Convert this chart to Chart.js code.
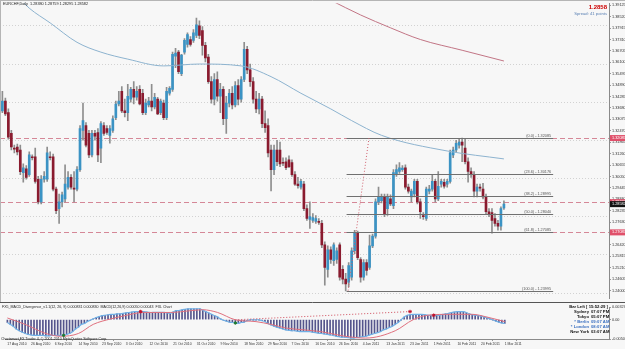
<!DOCTYPE html>
<html>
<head>
<meta charset="utf-8">
<title>EURCHF Daily</title>
<script src="https://cdn.jsdelivr.net/npm/chart.js@4.4.1/dist/chart.umd.min.js"></script>
<style>
  html, body { margin: 0; padding: 0; background: #f7f7f7; }
  #wrap { position: relative; width: 625px; height: 349px; overflow: hidden; }
  canvas { position: absolute; left: 0; }
  #priceChart { top: 0; }
  #macdChart { top: 302px; }
</style>
</head>
<body>
<div id="wrap">
  <canvas id="priceChart" width="625" height="302"></canvas>
  <canvas id="macdChart" width="625" height="47"></canvas>
</div>
<script>
// ===== EURCHF daily candles, 17 Aug 2010 .. 1 Mar 2011 =====
const opens = [
  1.3353,1.3404,1.3343,1.3233,1.3155,1.3161,1.3145,1.3025,1.3046,1.3015,
  1.3109,1.3109,1.2990,1.2870,1.2990,1.2990,1.3109,1.3109,1.2938,1.2834,
  1.2870,1.2886,1.2948,1.3000,1.2943,1.2938,1.3041,1.3249,1.3275,1.3233,
  1.3119,1.3233,1.3238,1.3155,1.3275,1.3259,1.3223,1.3249,1.3316,1.3389,
  1.3456,1.3353,1.3343,1.3415,1.3467,1.3425,1.3467,1.3446,1.3343,1.3384,
  1.3404,1.3373,1.3415,1.3343,1.3394,1.3316,1.3446,1.3467,1.3643,1.3664,
  1.3550,1.3664,1.3705,1.3731,1.3726,1.3752,1.3804,1.3778,1.3700,1.3638,
  1.3508,1.3415,1.3519,1.3430,1.3467,1.3311,1.3394,1.3446,1.3384,1.3487,
  1.3415,1.3519,1.3679,1.3570,1.3508,1.3415,1.3363,1.3415,1.3285,1.3275,
  1.3145,1.3041,1.3145,1.3145,1.3078,1.3083,1.3093,1.3078,1.3015,1.2964,
  1.2948,1.2964,1.2834,1.2777,1.2772,1.2767,1.2767,1.2756,1.2642,1.2512,
  1.2616,1.2559,1.2565,1.2642,1.2512,1.2461,1.2445,1.2471,1.2611,1.2704,
  1.2564,1.2471,1.2549,1.2523,1.2637,1.2689,1.2870,1.2876,1.2896,1.2834,
  1.2886,1.2850,1.3015,1.3031,1.3041,1.3051,1.2948,1.2896,1.2912,1.2979,
  1.2870,1.2798,1.2782,1.2927,1.2938,1.2979,1.2886,1.2964,1.2974,1.2964,
  1.2979,1.3119,1.3145,1.3171,1.3187,1.3155,1.3083,1.3031,1.3015,1.2927,
  1.2948,1.2938,1.2896,1.2818,1.2813,1.2782,1.2756,1.2741,1.2838
];
const highs = [
  1.3456,1.3420,1.3363,1.3249,1.3171,1.3176,1.3171,1.3072,1.3062,1.3135,
  1.3119,1.3155,1.3005,1.3010,1.3031,1.3161,1.3135,1.3124,1.2948,1.2912,
  1.2922,1.3067,1.3031,1.3015,1.3031,1.3057,1.3275,1.3394,1.3290,1.3249,
  1.3249,1.3249,1.3259,1.3296,1.3290,1.3275,1.3275,1.3327,1.3404,1.3456,
  1.3482,1.3415,1.3493,1.3477,1.3508,1.3482,1.3487,1.3467,1.3415,1.3425,
  1.3493,1.3446,1.3425,1.3415,1.3410,1.3477,1.3482,1.3664,1.3684,1.3674,
  1.3653,1.3736,1.3767,1.3747,1.3783,1.3845,1.3830,1.3799,1.3716,1.3653,
  1.3534,1.3550,1.3560,1.3498,1.3482,1.3430,1.3467,1.3482,1.3508,1.3519,
  1.3534,1.3716,1.3695,1.3601,1.3529,1.3456,1.3446,1.3430,1.3353,1.3311,
  1.3171,1.3171,1.3197,1.3187,1.3104,1.3104,1.3114,1.3093,1.3031,1.3000,
  1.2990,1.2979,1.2855,1.2870,1.2808,1.2798,1.2782,1.2772,1.2658,1.2637,
  1.2632,1.2653,1.2627,1.2653,1.2533,1.2492,1.2549,1.2627,1.2720,1.2715,
  1.2575,1.2564,1.2564,1.2694,1.2699,1.2886,1.2948,1.2912,1.2912,1.2912,
  1.2907,1.3041,1.3067,1.3078,1.3062,1.3067,1.2964,1.2938,1.2990,1.2990,
  1.2886,1.2813,1.2948,1.2958,1.3015,1.2990,1.3031,1.2990,1.2990,1.2990,
  1.3145,1.3161,1.3197,1.3205,1.3208,1.3204,1.3104,1.3051,1.3031,1.2964,
  1.2964,1.2969,1.2912,1.2834,1.2834,1.2808,1.2772,1.2844,1.2876
];
const lows = [
  1.3343,1.3327,1.3202,1.3145,1.3130,1.3119,1.3015,1.2974,1.2990,1.3005,
  1.3093,1.2969,1.2860,1.2860,1.2974,1.2979,1.3093,1.2928,1.2808,1.2756,
  1.2844,1.2870,1.2938,1.2938,1.2870,1.2928,1.3031,1.3197,1.3161,1.3104,
  1.3109,1.3197,1.3083,1.3078,1.3223,1.3228,1.3181,1.3238,1.3306,1.3379,
  1.3343,1.3321,1.3301,1.3399,1.3389,1.3410,1.3384,1.3332,1.3332,1.3373,
  1.3353,1.3363,1.3332,1.3332,1.3306,1.3306,1.3436,1.3456,1.3581,1.3550,
  1.3539,1.3653,1.3690,1.3695,1.3716,1.3741,1.3736,1.3648,1.3612,1.3498,
  1.3394,1.3384,1.3404,1.3343,1.3280,1.3233,1.3373,1.3363,1.3373,1.3384,
  1.3399,1.3508,1.3550,1.3482,1.3394,1.3343,1.3337,1.3264,1.3238,1.3109,
  1.2928,1.3015,1.3062,1.3057,1.3062,1.3041,1.3051,1.3005,1.2958,1.2943,
  1.2938,1.2824,1.2772,1.2730,1.2761,1.2756,1.2751,1.2627,1.2429,1.2471,
  1.2544,1.2533,1.2544,1.2455,1.2435,1.2398,1.2419,1.2455,1.2595,1.2564,
  1.2445,1.2455,1.2481,1.2512,1.2627,1.2678,1.2855,1.2865,1.2792,1.2798,
  1.2850,1.2834,1.3005,1.3021,1.3031,1.2938,1.2917,1.2870,1.2896,1.2860,
  1.2782,1.2777,1.2772,1.2912,1.2927,1.2870,1.2876,1.2948,1.2943,1.2948,
  1.2969,1.3104,1.3135,1.3155,1.3083,1.3072,1.2974,1.3000,1.2896,1.2896,
  1.2927,1.2886,1.2808,1.2792,1.2704,1.2741,1.2720,1.2720,1.2830
];
const closes = [
  1.3404,1.3337,1.3213,1.3161,1.3150,1.3135,1.3030,1.3051,1.3000,1.3119,
  1.3104,1.2979,1.2870,1.2990,1.3005,1.3130,1.3104,1.2938,1.2824,1.2870,
  1.2907,1.2964,1.3000,1.2948,1.2938,1.3041,1.3259,1.3301,1.3171,1.3119,
  1.3233,1.3218,1.3119,1.3285,1.3233,1.3238,1.3259,1.3311,1.3389,1.3404,
  1.3353,1.3343,1.3430,1.3467,1.3425,1.3456,1.3389,1.3343,1.3394,1.3404,
  1.3373,1.3425,1.3337,1.3404,1.3316,1.3456,1.3472,1.3653,1.3659,1.3560,
  1.3648,1.3726,1.3757,1.3705,1.3767,1.3809,1.3752,1.3700,1.3633,1.3508,
  1.3415,1.3519,1.3430,1.3467,1.3311,1.3394,1.3446,1.3384,1.3487,1.3415,
  1.3519,1.3679,1.3570,1.3508,1.3415,1.3363,1.3415,1.3285,1.3264,1.3130,
  1.3041,1.3145,1.3083,1.3072,1.3075,1.3051,1.3057,1.3015,1.2964,1.2956,
  1.2979,1.2834,1.2782,1.2792,1.2787,1.2782,1.2761,1.2642,1.2523,1.2616,
  1.2565,1.2642,1.2611,1.2471,1.2461,1.2435,1.2533,1.2611,1.2704,1.2575,
  1.2471,1.2549,1.2507,1.2637,1.2689,1.2870,1.2896,1.2896,1.2808,1.2896,
  1.2860,1.3026,1.3041,1.3051,1.3049,1.2948,1.2927,1.2927,1.2979,1.2870,
  1.2818,1.2792,1.2938,1.2938,1.2979,1.2886,1.2953,1.2979,1.2953,1.2979,
  1.3130,1.3145,1.3181,1.3187,1.3171,1.3083,1.3031,1.3015,1.2927,1.2948,
  1.2943,1.2896,1.2818,1.2803,1.2772,1.2756,1.2741,1.2834,1.2858
];

// moving averages (bar index, value)
const maBlueBars   = [6, 9, 16, 25, 33, 42, 54, 66, 80, 90, 100, 110, 117, 127, 149, 168];
const maBlueValues = [1.3944, 1.3897, 1.3819, 1.3716, 1.3664, 1.3627, 1.3591, 1.3601, 1.3591, 1.3534, 1.3446, 1.3363, 1.3301, 1.3223, 1.3140, 1.3098];
const maRedBars    = [110, 120, 130, 140, 154, 168];
const maRedValues  = [1.3939, 1.3861, 1.3793, 1.3731, 1.3674, 1.3617];

// MACD panel
const macdMain = [
  -0.00076,-0.00124,-0.00171,-0.00243,-0.00290,-0.00326,-0.00361,-0.00385,-0.00397,-0.00409,
  -0.00409,-0.00409,-0.00409,-0.00421,-0.00421,-0.00409,-0.00409,-0.00409,-0.00409,-0.00409,
  -0.00385,-0.00361,-0.00314,-0.00243,-0.00195,-0.00124,-0.00100,-0.00053,-0.00017,0.00019,
  0.00054,0.00078,0.00101,0.00113,0.00125,0.00137,0.00137,0.00149,0.00149,0.00161,
  0.00173,0.00185,0.00196,0.00208,0.00208,0.00208,0.00208,0.00196,0.00185,0.00185,
  0.00185,0.00185,0.00185,0.00185,0.00173,0.00161,0.00196,0.00232,0.00232,0.00256,
  0.00268,0.00280,0.00280,0.00280,0.00280,0.00280,0.00244,0.00208,0.00173,0.00137,
  0.00101,0.00066,0.00019,-0.00017,-0.00041,-0.00065,-0.00076,-0.00088,-0.00100,-0.00076,
  -0.00065,-0.00029,-0.00005,-0.00005,-0.00005,-0.00005,-0.00029,-0.00053,-0.00100,-0.00136,
  -0.00171,-0.00195,-0.00219,-0.00243,-0.00266,-0.00278,-0.00290,-0.00290,-0.00302,-0.00314,
  -0.00314,-0.00314,-0.00314,-0.00326,-0.00338,-0.00350,-0.00361,-0.00373,-0.00385,-0.00397,
  -0.00409,-0.00433,-0.00445,-0.00456,-0.00456,-0.00468,-0.00480,-0.00480,-0.00468,-0.00456,
  -0.00445,-0.00433,-0.00409,-0.00385,-0.00361,-0.00338,-0.00314,-0.00266,-0.00243,-0.00207,
  -0.00171,-0.00124,-0.00076,-0.00005,0.00066,0.00113,0.00125,0.00137,0.00137,0.00137,
  0.00137,0.00125,0.00113,0.00113,0.00113,0.00113,0.00113,0.00137,0.00149,0.00161,
  0.00185,0.00196,0.00208,0.00208,0.00208,0.00185,0.00149,0.00125,0.00113,0.00101,
  0.00090,0.00066,0.00042,0.00019,-0.00005,-0.00041,-0.00065,-0.00088,-0.00100
];
const signalBars   = [0, 6, 13, 18, 24, 29, 35, 39, 46, 55, 62, 66, 71, 77, 84, 89, 94, 100, 106, 114, 121, 131, 137, 142, 150, 157, 162, 168];
const signalValues = [0.00042, -0.00124, -0.00361, -0.00433, -0.00361, -0.00124, 0.00019, 0.00090, 0.00185, 0.00185,
                      0.00232, 0.00256, 0.00185, -0.00005, -0.00053, -0.00124, -0.00219, -0.00266, -0.00314, -0.00433,
                      -0.00480, -0.00290, -0.00005, 0.00113, 0.00137, 0.00137, 0.00066, -0.00053];
// divergence marks of the FX5 indicator
const divLineBars   = [77, 136];
const divLineValues = [-0.00005, 0.00208];
const bearMarkBars   = [45, 136, 144];
const bearMarkValues = [0.00208, 0.00208, 0.00113];
const bullMarkBars   = [19, 77];
const bullMarkValues = [-0.00409, -0.00088];
const macdTicks = [-0.00504, 0, 0.00327];

// axes
const dateLabels = ['17 Aug 2010','26 Aug 2010','6 Sep 2010','14 Sep 2010','23 Sep 2010','3 Oct 2010','12 Oct 2010',
  '21 Oct 2010','31 Oct 2010','9 Nov 2010','18 Nov 2010','29 Nov 2010','7 Dec 2010','16 Dec 2010','26 Dec 2010',
  '4 Jan 2011','13 Jan 2011','23 Jan 2011','1 Feb 2011','10 Feb 2011','20 Feb 2011','1 Mar 2011'];
const labelStep = 8;
const priceTicks = [1.39125,1.38520,1.37915,1.37310,1.36705,1.36100,1.35495,1.34890,1.34285,1.33680,
  1.33075,1.32470,1.31865,1.31260,1.30655,1.30050,1.29445,1.28840,1.28235,1.27630,
  1.27025,1.26420,1.25815,1.25210,1.24605,1.24000];
const gridLevels = [1.38053, 1.36030, 1.34008, 1.31985, 1.29963, 1.27940, 1.25918, 1.23895];

// drawn objects
const dashedLevels = [1.32085, 1.28687, 1.27085];
const fibHigh = 1.32085, fibLow = 1.23995;
const fibLevels = [0, 23.6, 38.2, 50, 61.8, 100];
const fibStartBar = 115.3, fibEndBar = 184.5;
const fibDiagBars = [115.8, 122.8];
const lastPrice = 1.28582;

const FONT = 'Liberation Sans';
const xMin = -0.8, xMax = 203.2;
const UP = '#3b93c4', DOWN = '#8a1b2f', WICK = '#8e8e8e';

const candleColor = c => closes[c.dataIndex] >= opens[c.dataIndex] ? UP : DOWN;

function hline(ctx, x1, x2, y) {
  ctx.beginPath(); ctx.moveTo(x1, y); ctx.lineTo(x2, y); ctx.stroke();
}

const priceOverlay = {
  id: 'priceOverlay',
  beforeDraw(chart) {
    const { ctx, width, height } = chart;
    ctx.save();
    ctx.fillStyle = '#f7f7f7';
    ctx.fillRect(0, 0, width, height);
    ctx.restore();
  },
  beforeDatasetsDraw(chart) {
    const { ctx, chartArea: a, scales: { y } } = chart;
    ctx.save();
    ctx.lineWidth = 1;
    ctx.strokeStyle = '#d2d2d2';
    ctx.setLineDash([1, 2]);
    gridLevels.forEach(v => hline(ctx, a.left, a.right, Math.round(y.getPixelForValue(v)) + 0.5));
    ctx.strokeStyle = '#d58797';
    ctx.setLineDash([5, 3]);
    dashedLevels.forEach(v => hline(ctx, a.left, a.right, Math.round(y.getPixelForValue(v)) + 0.5));
    ctx.restore();
  },
  afterDatasetsDraw(chart) {
    const { ctx, scales: { x, y } } = chart;
    ctx.save();
    const x1 = x.getPixelForValue(fibStartBar), x2 = x.getPixelForValue(fibEndBar);
    ctx.lineWidth = 1;
    ctx.font = `3.8px ${FONT}`;
    ctx.textAlign = 'right';
    ctx.textBaseline = 'bottom';
    fibLevels.forEach(lvl => {
      const p = fibHigh - (fibHigh - fibLow) * lvl / 100;
      const py = Math.round(y.getPixelForValue(p)) + 0.5;
      ctx.strokeStyle = '#707070';
      hline(ctx, x1, x2, py);
      ctx.fillStyle = '#555';
      ctx.fillText(`(${lvl.toFixed(1)}) - ${p.toFixed(5)}`, x2 - 2, py - 1);
    });
    // fibo anchor line
    ctx.strokeStyle = '#d0606e';
    ctx.setLineDash([1, 2]);
    ctx.beginPath();
    ctx.moveTo(x.getPixelForValue(fibDiagBars[0]), y.getPixelForValue(fibLow));
    ctx.lineTo(x.getPixelForValue(fibDiagBars[1]), y.getPixelForValue(fibHigh));
    ctx.stroke();
    ctx.restore();
  },
  afterDraw(chart) {
    const { ctx, chartArea: a, scales: { y } } = chart;
    ctx.save();
    ctx.strokeStyle = '#b5b5b5';
    ctx.lineWidth = 1;
    hline(ctx, 0, chart.width, 0.5);
    ctx.beginPath(); ctx.moveTo(0.5, 0); ctx.lineTo(0.5, chart.height); ctx.stroke();

    ctx.textBaseline = 'middle';
    ctx.fillStyle = '#222';
    ctx.font = `3.8px ${FONT}`;
    ctx.textAlign = 'left';
    ctx.fillText('EURCHF,Daily  1.28380 1.28759 1.28295 1.28582', 3, 4);

    ctx.textAlign = 'right';
    ctx.fillStyle = '#cc0000';
    ctx.font = `bold 6px ${FONT}`;
    ctx.fillText(lastPrice.toFixed(4), a.right - 2, 7.5);
    ctx.fillStyle = '#5a80b4';
    ctx.font = `4.2px ${FONT}`;
    ctx.fillText('Spread: 41 points', a.right - 2, 14);

    // price tags on the axis
    ctx.textAlign = 'left';
    ctx.font = `3.8px ${FONT}`;
    const tag = (v, bg) => {
      const py = y.getPixelForValue(v);
      ctx.fillStyle = bg;
      ctx.fillRect(a.right + 1, py - 3, 16, 6);
      ctx.fillStyle = '#fff';
      ctx.fillText(v.toFixed(5), a.right + 3, py);
    };
    dashedLevels.forEach(v => tag(v, '#e0506a'));
    tag(lastPrice, '#111');
    ctx.restore();
  }
};

new Chart(document.getElementById('priceChart'), {
  type: 'bar',
  data: {
    datasets: [
      {
        type: 'bar',
        data: opens.map((o, i) => ({ x: i, y: [o, closes[i]] })),
        backgroundColor: candleColor,
        barThickness: 2,
        maxBarThickness: 2,
        minBarLength: 1,
        grouped: false,
        borderWidth: 0,
        order: 2
      },
      {
        type: 'bar',
        data: lows.map((l, i) => ({ x: i, y: [l, highs[i]] })),
        backgroundColor: WICK,
        barThickness: 1,
        maxBarThickness: 1,
        grouped: false,
        borderWidth: 0,
        order: 3
      },
      {
        type: 'line',
        data: maBlueBars.map((b, k) => ({ x: b, y: maBlueValues[k] })),
        borderColor: '#8db3cf',
        borderWidth: 1,
        pointRadius: 0,
        cubicInterpolationMode: 'monotone',
        order: 1
      },
      {
        type: 'line',
        data: maRedBars.map((b, k) => ({ x: b, y: maRedValues[k] })),
        borderColor: '#c27585',
        borderWidth: 1,
        pointRadius: 0,
        cubicInterpolationMode: 'monotone',
        order: 1
      }
    ]
  },
  options: {
    responsive: false,
    animation: false,
    devicePixelRatio: 1,
    layout: { padding: 0 },
    plugins: { legend: { display: false }, tooltip: { enabled: false } },
    scales: {
      x: { type: 'linear', min: xMin, max: xMax, offset: false, display: false },
      y: {
        position: 'right',
        min: 1.23568,
        max: 1.3923,
        afterFit: s => { s.width = 16; },
        afterBuildTicks: s => { s.ticks = priceTicks.map(v => ({ value: v })); },
        ticks: { font: { size: 3.8, family: FONT }, color: '#333', padding: 1, callback: v => v.toFixed(5) },
        grid: { drawOnChartArea: false, tickLength: 2, color: '#999' },
        border: { color: '#8a8a8a' }
      }
    }
  },
  plugins: [priceOverlay]
});

const macdOverlay = {
  id: 'macdOverlay',
  beforeDraw(chart) {
    const { ctx, width, height } = chart;
    ctx.save();
    ctx.fillStyle = '#f7f7f7';
    ctx.fillRect(0, 0, width, height);
    ctx.strokeStyle = '#555';
    ctx.lineWidth = 1;
    hline(ctx, 0, width, 0.5);
    ctx.restore();
  },
  afterDraw(chart) {
    const { ctx, chartArea: a } = chart;
    ctx.save();
    ctx.textBaseline = 'middle';
    ctx.textAlign = 'left';
    ctx.fillStyle = '#222';
    ctx.font = `3.6px ${FONT}`;
    ctx.fillText('FX5_MACD_Divergence_v1.1(12, 26, 9) 0.000831 0.000830  MACD(12,26,9) 0.00050 0.00043  FXL Chart', 2, 5);
    ctx.fillText('Chartsmart FX Trader 4, \u00a9 2001-2010 MetaQuotes Software Corp.', 1, a.bottom - 0.5);

    const rows = [
      ['Sydney', '07:07 PM', '#111'],
      ['Tokyo', '05:07 PM', '#111'],
      ['* Berlin', '09:07 AM', '#3a6fc0'],
      ['* London', '08:07 AM', '#3a6fc0'],
      ['New York', '03:07 AM', '#111']
    ];
    ctx.font = `bold 4.2px ${FONT}`;
    ctx.textAlign = 'right';
    ctx.fillStyle = '#111';
    ctx.fillText('Bar Left [ 15:52:29 ]', a.right - 1, 5);
    rows.forEach((r, k) => {
      const ty = 10 + k * 5;
      ctx.fillStyle = r[2];
      ctx.textAlign = 'right';
      ctx.fillText(r[0], a.right - 20, ty);
      ctx.textAlign = 'left';
      ctx.fillText(r[1], a.right - 18, ty);
    });
    ctx.restore();
  }
};

new Chart(document.getElementById('macdChart'), {
  type: 'bar',
  data: {
    datasets: [
      {
        type: 'line',
        data: macdMain.map((v, i) => ({ x: i, y: v })),
        borderColor: '#6fb0e6',
        borderWidth: 1.2,
        pointRadius: 0,
        tension: 0.3,
        order: 1
      },
      {
        type: 'line',
        data: signalBars.map((b, k) => ({ x: b, y: signalValues[k] })),
        borderColor: '#e0707e',
        borderWidth: 1,
        pointRadius: 0,
        cubicInterpolationMode: 'monotone',
        order: 0
      },
      {
        type: 'line',
        data: divLineBars.map((b, k) => ({ x: b, y: divLineValues[k] })),
        borderColor: '#d04a5a',
        borderWidth: 1,
        borderDash: [1, 2],
        pointRadius: 0,
        order: 0
      },
      {
        type: 'scatter',
        data: bearMarkBars.map((b, k) => ({ x: b, y: bearMarkValues[k] })),
        pointStyle: 'star',
        pointRadius: 1.8,
        borderColor: '#c0102a',
        borderWidth: 1,
        order: -1
      },
      {
        type: 'scatter',
        data: bullMarkBars.map((b, k) => ({ x: b, y: bullMarkValues[k] })),
        pointStyle: 'circle',
        pointRadius: 1.2,
        backgroundColor: '#1e7a2e',
        borderColor: '#1e7a2e',
        order: -1
      },
      {
        type: 'bar',
        data: macdMain.map((v, i) => ({ x: i, y: v })),
        backgroundColor: '#55558c',
        barThickness: 1,
        maxBarThickness: 1,
        borderWidth: 0,
        order: 2
      }
    ]
  },
  options: {
    responsive: false,
    animation: false,
    devicePixelRatio: 1,
    layout: { padding: { top: 2, left: 0, right: 0, bottom: 0 } },
    plugins: { legend: { display: false }, tooltip: { enabled: false } },
    scales: {
      x: {
        type: 'linear',
        min: xMin,
        max: xMax,
        offset: false,
        afterFit: s => { s.height = 10; },
        afterBuildTicks: s => { s.ticks = dateLabels.map((d, k) => ({ value: k * labelStep })); },
        ticks: {
          autoSkip: false, maxRotation: 0, align: 'start', padding: 1,
          font: { size: 3.4, family: FONT }, color: '#333',
          callback: (v, k) => dateLabels[k]
        },
        grid: { drawOnChartArea: false, tickLength: 2, color: '#999' },
        border: { color: '#8a8a8a' }
      },
      y: {
        position: 'right',
        min: -0.00504,
        max: 0.00327,
        afterFit: s => { s.width = 16; },
        afterBuildTicks: s => { s.ticks = macdTicks.map(v => ({ value: v })); },
        ticks: { font: { size: 3.8, family: FONT }, color: '#333', padding: 1,
                 callback: v => (v === 0 ? '0.00' : v.toFixed(5)) },
        grid: { drawOnChartArea: false, tickLength: 2, color: '#999' },
        border: { color: '#8a8a8a' }
      }
    }
  },
  plugins: [macdOverlay]
});
</script>
</body>
</html>
